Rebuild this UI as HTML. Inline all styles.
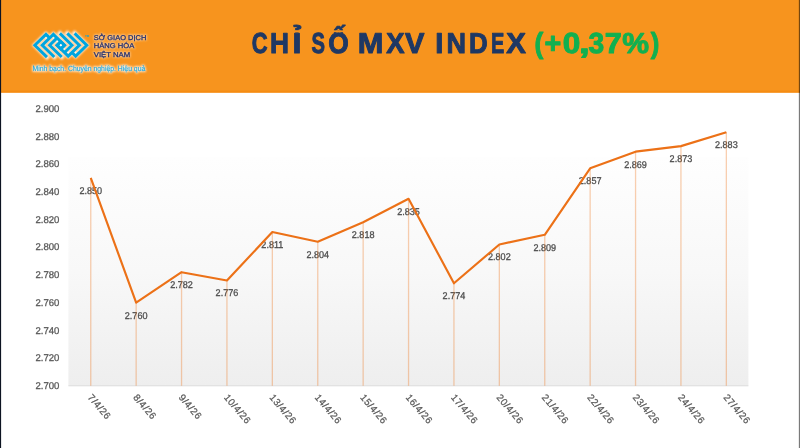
<!DOCTYPE html>
<html lang="vi"><head><meta charset="utf-8"><title>CHỈ SỐ MXV INDEX</title>
<style>
html,body{margin:0;padding:0;background:#fff;}
body{width:800px;height:448px;overflow:hidden;font-family:"Liberation Sans",sans-serif;}
svg{display:block;will-change:transform;}
svg text{font-family:"Liberation Sans",sans-serif;text-rendering:geometricPrecision;}
</style></head><body>
<svg width="800" height="448" viewBox="0 0 800 448">
<defs>
<linearGradient id="plotg" x1="0" y1="0" x2="0" y2="1"><stop offset="0" stop-color="#fefefe"/><stop offset="0.5" stop-color="#f8f8f8"/><stop offset="1" stop-color="#eeeeee"/></linearGradient>
<filter id="glow" x="-20%" y="-40%" width="140%" height="180%"><feGaussianBlur stdDeviation="1.0"/></filter>
<filter id="glowt" x="-10%" y="-60%" width="120%" height="220%"><feGaussianBlur stdDeviation="0.9"/></filter>
</defs>
<rect x="0" y="0" width="800" height="448" fill="#ffffff"/>
<rect x="0" y="0" width="800" height="92.6" fill="#f7941e"/>
<rect x="0" y="90.6" width="800" height="2.0" fill="#f68c12"/>
<g fill="none" stroke="#ffffff" stroke-width="4.3" stroke-linejoin="miter" stroke-linecap="square" filter="url(#glow)" opacity="0.88"><path d="M46.98,57.09 L34.83,45.20 L45.96,34.31 L49.67,37.94"/><path d="M54.31,57.00 L42.25,45.20 L53.38,34.31 L64.51,45.20 L60.80,48.83 L57.09,45.20 L60.80,41.57"/><path d="M61.73,57.00 L49.67,45.20 L57.09,37.94"/><path d="M74.62,33.31 L86.77,45.20 L75.64,56.09 L71.93,52.46"/><path d="M67.29,33.40 L79.35,45.20 L68.22,56.09 L57.09,45.20 L60.80,41.57 L64.51,45.20 L60.80,48.83"/><path d="M59.87,33.40 L71.93,45.20 L64.51,52.46"/></g>
<g fill="none" stroke="#00a5df" stroke-width="3.0" stroke-linejoin="miter" stroke-linecap="butt"><path d="M46.98,57.09 L34.83,45.20 L45.96,34.31 L49.67,37.94"/><path d="M54.31,57.00 L42.25,45.20 L53.38,34.31 L64.51,45.20 L60.80,48.83 L57.09,45.20 L60.80,41.57"/><path d="M61.73,57.00 L49.67,45.20 L57.09,37.94"/><path d="M74.62,33.31 L86.77,45.20 L75.64,56.09 L71.93,52.46"/><path d="M67.29,33.40 L79.35,45.20 L68.22,56.09 L57.09,45.20 L60.80,41.57 L64.51,45.20 L60.80,48.83"/><path d="M59.87,33.40 L71.93,45.20 L64.51,52.46"/></g>
<circle cx="60.80" cy="45.20" r="1.0" fill="#ffffff" opacity="1.0"/>
<circle cx="45.96" cy="37.94" r="0.75" fill="#ffffff" opacity="0.75"/>
<circle cx="75.64" cy="52.46" r="0.75" fill="#ffffff" opacity="0.75"/>
<circle cx="53.38" cy="37.94" r="0.75" fill="#ffffff" opacity="0.75"/>
<circle cx="68.22" cy="52.46" r="0.75" fill="#ffffff" opacity="0.75"/>
<circle cx="57.28" cy="41.39" r="0.75" fill="#ffffff" opacity="0.75"/>
<circle cx="64.32" cy="49.01" r="0.75" fill="#ffffff" opacity="0.75"/>
<text x="85.0" y="36.6" font-size="3.0" font-weight="bold" fill="#00a5df">TM</text>
<text x="93.8" y="39.5" font-size="7.0" fill="#ffffff" stroke="#ffffff" stroke-width="1.2" opacity="0.55" filter="url(#glowt)" textLength="52.5" lengthAdjust="spacingAndGlyphs">SỞ GIAO DỊCH</text>
<text x="93.8" y="39.5" font-size="7.0" fill="#26306e" stroke="#26306e" stroke-width="0.3" textLength="52.5" lengthAdjust="spacingAndGlyphs">SỞ GIAO DỊCH</text>
<text x="93.8" y="48.3" font-size="7.0" fill="#ffffff" stroke="#ffffff" stroke-width="1.2" opacity="0.55" filter="url(#glowt)" textLength="40.5" lengthAdjust="spacingAndGlyphs">HÀNG HÓA</text>
<text x="93.8" y="48.3" font-size="7.0" fill="#26306e" stroke="#26306e" stroke-width="0.3" textLength="40.5" lengthAdjust="spacingAndGlyphs">HÀNG HÓA</text>
<text x="93.8" y="56.9" font-size="7.0" fill="#ffffff" stroke="#ffffff" stroke-width="1.2" opacity="0.55" filter="url(#glowt)" textLength="36.4" lengthAdjust="spacingAndGlyphs">VIỆT NAM</text>
<text x="93.8" y="56.9" font-size="7.0" fill="#26306e" stroke="#26306e" stroke-width="0.3" textLength="36.4" lengthAdjust="spacingAndGlyphs">VIỆT NAM</text>
<text x="32.5" y="70.7" font-size="7.5" fill="#ffffff" stroke="#ffffff" stroke-width="1.5" opacity="0.85" filter="url(#glowt)" textLength="112.8" lengthAdjust="spacingAndGlyphs">Minh bạch. Chuyên nghiệp. Hiệu quả</text>
<text x="32.5" y="70.7" font-size="7.5" fill="#1fa8de" stroke="#1fa8de" stroke-width="0.15" textLength="112.8" lengthAdjust="spacingAndGlyphs">Minh bạch. Chuyên nghiệp. Hiệu quả</text>
<text transform="translate(251.70,53.0) scale(0.7621,1)" font-size="28.9" font-weight="bold" fill="#1f3864" stroke="#1f3864" stroke-width="1.0" stroke-linejoin="round">C</text>
<text transform="translate(270.04,53.0) scale(0.9094,1)" font-size="28.9" font-weight="bold" fill="#1f3864" stroke="#1f3864" stroke-width="1.0" stroke-linejoin="round">H</text>
<clipPath id="c294b"><rect x="0" y="32.37" width="800" height="60"/></clipPath>
<clipPath id="c294a"><rect x="0" y="0" width="800" height="30.37"/></clipPath>
<g clip-path="url(#c294b)"><text transform="translate(292.44,53.0) scale(1.1170,1)" font-size="28.9" font-weight="bold" fill="#1f3864" stroke="#1f3864" stroke-width="1.0" stroke-linejoin="round">Ỉ</text></g>
<g clip-path="url(#c294a)"><g transform="translate(0,-2.0)"><text transform="translate(292.44,53.0) scale(1.1170,1)" font-size="28.9" font-weight="bold" fill="#1f3864" stroke="#1f3864" stroke-width="1.0" stroke-linejoin="round">Ỉ</text></g></g>
<text transform="translate(311.52,53.0) scale(0.6988,1)" font-size="28.9" font-weight="bold" fill="#1f3864" stroke="#1f3864" stroke-width="1.0" stroke-linejoin="round">S</text>
<clipPath id="c328b"><rect x="0" y="32.17" width="800" height="60"/></clipPath>
<clipPath id="c328a"><rect x="0" y="0" width="800" height="30.17"/></clipPath>
<g clip-path="url(#c328b)"><text transform="translate(328.22,53.0) scale(0.9113,1)" font-size="28.9" font-weight="bold" fill="#1f3864" stroke="#1f3864" stroke-width="1.0" stroke-linejoin="round">Ố</text></g>
<g clip-path="url(#c328a)"><g transform="translate(0,-2.0)"><text transform="translate(328.22,53.0) scale(0.9113,1)" font-size="28.9" font-weight="bold" fill="#1f3864" stroke="#1f3864" stroke-width="1.0" stroke-linejoin="round">Ố</text></g></g>
<text transform="translate(357.84,53.0) scale(1.0640,1)" font-size="28.9" font-weight="bold" fill="#1f3864" stroke="#1f3864" stroke-width="1.0" stroke-linejoin="round">M</text>
<text transform="translate(386.16,53.0) scale(0.9484,1)" font-size="28.9" font-weight="bold" fill="#1f3864" stroke="#1f3864" stroke-width="1.0" stroke-linejoin="round">X</text>
<text transform="translate(405.00,53.0) scale(1.0090,1)" font-size="28.9" font-weight="bold" fill="#1f3864" stroke="#1f3864" stroke-width="1.0" stroke-linejoin="round">V</text>
<text transform="translate(435.15,53.0) scale(1.0089,1)" font-size="28.9" font-weight="bold" fill="#1f3864" stroke="#1f3864" stroke-width="1.0" stroke-linejoin="round">I</text>
<text transform="translate(446.49,53.0) scale(0.9358,1)" font-size="28.9" font-weight="bold" fill="#1f3864" stroke="#1f3864" stroke-width="1.0" stroke-linejoin="round">N</text>
<text transform="translate(469.07,53.0) scale(0.8971,1)" font-size="28.9" font-weight="bold" fill="#1f3864" stroke="#1f3864" stroke-width="1.0" stroke-linejoin="round">D</text>
<text transform="translate(491.06,53.0) scale(0.6908,1)" font-size="28.9" font-weight="bold" fill="#1f3864" stroke="#1f3864" stroke-width="1.0" stroke-linejoin="round">E</text>
<text transform="translate(506.14,53.0) scale(1.0177,1)" font-size="28.9" font-weight="bold" fill="#1f3864" stroke="#1f3864" stroke-width="1.0" stroke-linejoin="round">X</text>
<text transform="translate(534.49,52.8) scale(0.9134,1)" font-size="28.9" font-weight="bold" fill="#12b050" stroke="#12b050" stroke-width="1.0" stroke-linejoin="round">(</text>
<text transform="translate(544.55,52.8) scale(0.9902,1)" font-size="28.9" font-weight="bold" fill="#12b050" stroke="#12b050" stroke-width="1.0" stroke-linejoin="round">+</text>
<text transform="translate(562.65,52.8) scale(1.0914,1)" font-size="28.9" font-weight="bold" fill="#12b050" stroke="#12b050" stroke-width="1.0" stroke-linejoin="round">0</text>
<text transform="translate(579.12,52.8) scale(1.3423,1)" font-size="28.9" font-weight="bold" fill="#12b050" stroke="#12b050" stroke-width="1.0" stroke-linejoin="round">,</text>
<text transform="translate(588.60,52.8) scale(0.9746,1)" font-size="28.9" font-weight="bold" fill="#12b050" stroke="#12b050" stroke-width="1.0" stroke-linejoin="round">3</text>
<text transform="translate(604.78,52.8) scale(1.0619,1)" font-size="28.9" font-weight="bold" fill="#12b050" stroke="#12b050" stroke-width="1.0" stroke-linejoin="round">7</text>
<text transform="translate(622.25,52.8) scale(1.0427,1)" font-size="28.9" font-weight="bold" fill="#12b050" stroke="#12b050" stroke-width="1.0" stroke-linejoin="round">%</text>
<text transform="translate(650.72,52.8) scale(0.8889,1)" font-size="28.9" font-weight="bold" fill="#12b050" stroke="#12b050" stroke-width="1.0" stroke-linejoin="round">)</text>
<rect x="68.4" y="156.7" width="680.0" height="229.10000000000002" fill="url(#plotg)"/>
<line x1="68.4" y1="385.8" x2="748.4" y2="385.8" stroke="#dcdcdc" stroke-width="1"/>
<text transform="translate(59.4,389.00) scale(0.975,1)" font-size="9.8" fill="#595959" stroke="#595959" stroke-width="0.3" text-anchor="end">2.700</text>
<text transform="translate(59.4,361.29) scale(0.975,1)" font-size="9.8" fill="#595959" stroke="#595959" stroke-width="0.3" text-anchor="end">2.720</text>
<text transform="translate(59.4,333.58) scale(0.975,1)" font-size="9.8" fill="#595959" stroke="#595959" stroke-width="0.3" text-anchor="end">2.740</text>
<text transform="translate(59.4,305.87) scale(0.975,1)" font-size="9.8" fill="#595959" stroke="#595959" stroke-width="0.3" text-anchor="end">2.760</text>
<text transform="translate(59.4,278.16) scale(0.975,1)" font-size="9.8" fill="#595959" stroke="#595959" stroke-width="0.3" text-anchor="end">2.780</text>
<text transform="translate(59.4,250.45) scale(0.975,1)" font-size="9.8" fill="#595959" stroke="#595959" stroke-width="0.3" text-anchor="end">2.800</text>
<text transform="translate(59.4,222.74) scale(0.975,1)" font-size="9.8" fill="#595959" stroke="#595959" stroke-width="0.3" text-anchor="end">2.820</text>
<text transform="translate(59.4,195.03) scale(0.975,1)" font-size="9.8" fill="#595959" stroke="#595959" stroke-width="0.3" text-anchor="end">2.840</text>
<text transform="translate(59.4,167.32) scale(0.975,1)" font-size="9.8" fill="#595959" stroke="#595959" stroke-width="0.3" text-anchor="end">2.860</text>
<text transform="translate(59.4,139.61) scale(0.975,1)" font-size="9.8" fill="#595959" stroke="#595959" stroke-width="0.3" text-anchor="end">2.880</text>
<text transform="translate(59.4,111.90) scale(0.975,1)" font-size="9.8" fill="#595959" stroke="#595959" stroke-width="0.3" text-anchor="end">2.900</text>
<text transform="translate(90.75,193.88) scale(0.925,1)" font-size="9.8" fill="#4d4d4d" stroke="#4d4d4d" stroke-width="0.3" text-anchor="middle">2.850</text>
<text transform="translate(136.15,318.57) scale(0.925,1)" font-size="9.8" fill="#4d4d4d" stroke="#4d4d4d" stroke-width="0.3" text-anchor="middle">2.760</text>
<text transform="translate(181.55,288.09) scale(0.925,1)" font-size="9.8" fill="#4d4d4d" stroke="#4d4d4d" stroke-width="0.3" text-anchor="middle">2.782</text>
<text transform="translate(226.95,296.40) scale(0.925,1)" font-size="9.8" fill="#4d4d4d" stroke="#4d4d4d" stroke-width="0.3" text-anchor="middle">2.776</text>
<text transform="translate(272.35,247.91) scale(0.925,1)" font-size="9.8" fill="#4d4d4d" stroke="#4d4d4d" stroke-width="0.3" text-anchor="middle">2.811</text>
<text transform="translate(317.75,257.61) scale(0.925,1)" font-size="9.8" fill="#4d4d4d" stroke="#4d4d4d" stroke-width="0.3" text-anchor="middle">2.804</text>
<text transform="translate(363.15,238.21) scale(0.925,1)" font-size="9.8" fill="#4d4d4d" stroke="#4d4d4d" stroke-width="0.3" text-anchor="middle">2.818</text>
<text transform="translate(408.55,214.66) scale(0.925,1)" font-size="9.8" fill="#4d4d4d" stroke="#4d4d4d" stroke-width="0.3" text-anchor="middle">2.835</text>
<text transform="translate(453.95,299.17) scale(0.925,1)" font-size="9.8" fill="#4d4d4d" stroke="#4d4d4d" stroke-width="0.3" text-anchor="middle">2.774</text>
<text transform="translate(499.35,260.38) scale(0.925,1)" font-size="9.8" fill="#4d4d4d" stroke="#4d4d4d" stroke-width="0.3" text-anchor="middle">2.802</text>
<text transform="translate(544.75,250.68) scale(0.925,1)" font-size="9.8" fill="#4d4d4d" stroke="#4d4d4d" stroke-width="0.3" text-anchor="middle">2.809</text>
<text transform="translate(590.15,184.18) scale(0.925,1)" font-size="9.8" fill="#4d4d4d" stroke="#4d4d4d" stroke-width="0.3" text-anchor="middle">2.857</text>
<text transform="translate(635.55,167.55) scale(0.925,1)" font-size="9.8" fill="#4d4d4d" stroke="#4d4d4d" stroke-width="0.3" text-anchor="middle">2.869</text>
<text transform="translate(680.95,162.01) scale(0.925,1)" font-size="9.8" fill="#4d4d4d" stroke="#4d4d4d" stroke-width="0.3" text-anchor="middle">2.873</text>
<text transform="translate(726.35,148.15) scale(0.925,1)" font-size="9.8" fill="#4d4d4d" stroke="#4d4d4d" stroke-width="0.3" text-anchor="middle">2.883</text>
<line x1="90.75" y1="177.97" x2="90.75" y2="385.8" stroke="#ec7117" stroke-opacity="0.34" stroke-width="1.3"/>
<line x1="136.15" y1="302.67" x2="136.15" y2="385.8" stroke="#ec7117" stroke-opacity="0.34" stroke-width="1.3"/>
<line x1="181.55" y1="272.19" x2="181.55" y2="385.8" stroke="#ec7117" stroke-opacity="0.34" stroke-width="1.3"/>
<line x1="226.95" y1="280.50" x2="226.95" y2="385.8" stroke="#ec7117" stroke-opacity="0.34" stroke-width="1.3"/>
<line x1="272.35" y1="232.01" x2="272.35" y2="385.8" stroke="#ec7117" stroke-opacity="0.34" stroke-width="1.3"/>
<line x1="317.75" y1="241.71" x2="317.75" y2="385.8" stroke="#ec7117" stroke-opacity="0.34" stroke-width="1.3"/>
<line x1="363.15" y1="222.31" x2="363.15" y2="385.8" stroke="#ec7117" stroke-opacity="0.34" stroke-width="1.3"/>
<line x1="408.55" y1="198.76" x2="408.55" y2="385.8" stroke="#ec7117" stroke-opacity="0.34" stroke-width="1.3"/>
<line x1="453.95" y1="283.27" x2="453.95" y2="385.8" stroke="#ec7117" stroke-opacity="0.34" stroke-width="1.3"/>
<line x1="499.35" y1="244.48" x2="499.35" y2="385.8" stroke="#ec7117" stroke-opacity="0.34" stroke-width="1.3"/>
<line x1="544.75" y1="234.78" x2="544.75" y2="385.8" stroke="#ec7117" stroke-opacity="0.34" stroke-width="1.3"/>
<line x1="590.15" y1="168.28" x2="590.15" y2="385.8" stroke="#ec7117" stroke-opacity="0.34" stroke-width="1.3"/>
<line x1="635.55" y1="151.65" x2="635.55" y2="385.8" stroke="#ec7117" stroke-opacity="0.34" stroke-width="1.3"/>
<line x1="680.95" y1="146.11" x2="680.95" y2="385.8" stroke="#ec7117" stroke-opacity="0.34" stroke-width="1.3"/>
<line x1="726.35" y1="132.25" x2="726.35" y2="385.8" stroke="#ec7117" stroke-opacity="0.34" stroke-width="1.3"/>
<polyline points="90.75,177.97 136.15,302.67 181.55,272.19 226.95,280.50 272.35,232.01 317.75,241.71 363.15,222.31 408.55,198.76 453.95,283.27 499.35,244.48 544.75,234.78 590.15,168.28 635.55,151.65 680.95,146.11 726.35,132.25" fill="none" stroke="#ec7117" stroke-width="2.15" stroke-linejoin="round" stroke-linecap="butt"/>
<text transform="translate(87.35,397.7) rotate(49.5) scale(0.975,1)" x="0" y="0" font-size="9.8" letter-spacing="0.53" fill="#595959" stroke="#595959" stroke-width="0.25">7/4/26</text>
<text transform="translate(132.75,397.7) rotate(49.5) scale(0.975,1)" x="0" y="0" font-size="9.8" letter-spacing="0.53" fill="#595959" stroke="#595959" stroke-width="0.25">8/4/26</text>
<text transform="translate(178.15,397.7) rotate(49.5) scale(0.975,1)" x="0" y="0" font-size="9.8" letter-spacing="0.53" fill="#595959" stroke="#595959" stroke-width="0.25">9/4/26</text>
<text transform="translate(223.55,397.7) rotate(49.5) scale(0.975,1)" x="0" y="0" font-size="9.8" letter-spacing="0.53" fill="#595959" stroke="#595959" stroke-width="0.25">10/4/26</text>
<text transform="translate(268.95,397.7) rotate(49.5) scale(0.975,1)" x="0" y="0" font-size="9.8" letter-spacing="0.53" fill="#595959" stroke="#595959" stroke-width="0.25">13/4/26</text>
<text transform="translate(314.35,397.7) rotate(49.5) scale(0.975,1)" x="0" y="0" font-size="9.8" letter-spacing="0.53" fill="#595959" stroke="#595959" stroke-width="0.25">14/4/26</text>
<text transform="translate(359.75,397.7) rotate(49.5) scale(0.975,1)" x="0" y="0" font-size="9.8" letter-spacing="0.53" fill="#595959" stroke="#595959" stroke-width="0.25">15/4/26</text>
<text transform="translate(405.15,397.7) rotate(49.5) scale(0.975,1)" x="0" y="0" font-size="9.8" letter-spacing="0.53" fill="#595959" stroke="#595959" stroke-width="0.25">16/4/26</text>
<text transform="translate(450.55,397.7) rotate(49.5) scale(0.975,1)" x="0" y="0" font-size="9.8" letter-spacing="0.53" fill="#595959" stroke="#595959" stroke-width="0.25">17/4/26</text>
<text transform="translate(495.95,397.7) rotate(49.5) scale(0.975,1)" x="0" y="0" font-size="9.8" letter-spacing="0.53" fill="#595959" stroke="#595959" stroke-width="0.25">20/4/26</text>
<text transform="translate(541.35,397.7) rotate(49.5) scale(0.975,1)" x="0" y="0" font-size="9.8" letter-spacing="0.53" fill="#595959" stroke="#595959" stroke-width="0.25">21/4/26</text>
<text transform="translate(586.75,397.7) rotate(49.5) scale(0.975,1)" x="0" y="0" font-size="9.8" letter-spacing="0.53" fill="#595959" stroke="#595959" stroke-width="0.25">22/4/26</text>
<text transform="translate(632.15,397.7) rotate(49.5) scale(0.975,1)" x="0" y="0" font-size="9.8" letter-spacing="0.53" fill="#595959" stroke="#595959" stroke-width="0.25">23/4/26</text>
<text transform="translate(677.55,397.7) rotate(49.5) scale(0.975,1)" x="0" y="0" font-size="9.8" letter-spacing="0.53" fill="#595959" stroke="#595959" stroke-width="0.25">24/4/26</text>
<text transform="translate(722.95,397.7) rotate(49.5) scale(0.975,1)" x="0" y="0" font-size="9.8" letter-spacing="0.53" fill="#595959" stroke="#595959" stroke-width="0.25">27/4/26</text>
<rect x="0" y="0" width="1.1" height="448" fill="#0d1422"/>
<rect x="798.85" y="0" width="1.15" height="448" fill="#000000" opacity="0.52"/>
</svg>
</body></html>
